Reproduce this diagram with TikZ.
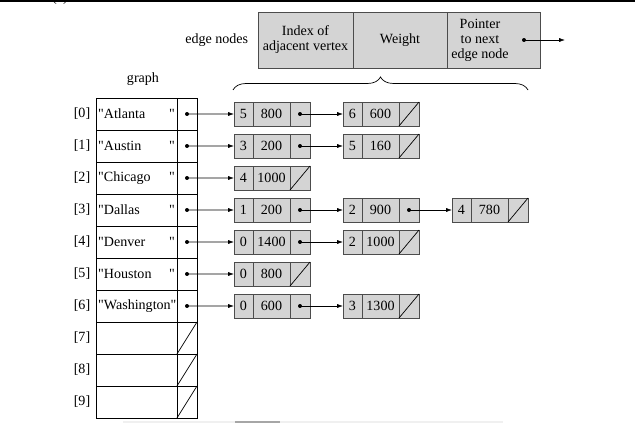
\documentclass[tikz,border=0pt]{standalone}
\usepackage{fontspec}
\setmainfont{Liberation Serif}[Ligatures=TeXOff]
\usetikzlibrary{positioning,arrows.meta,decorations.pathreplacing}

\tikzset{
  cell/.style={draw=black!70, fill=black!17, line width=.6pt, inner sep=0, outer sep=0, minimum height=.72cm},
  idx/.style={cell, minimum width=.57cm},
  wgt/.style={cell, minimum width=1.11cm},
  ptr/.style={cell, minimum width=.6cm},
  hdcell/.style={cell, minimum height=1.68cm, align=center},
  slot/.style={draw, line width=.7pt, inner sep=0, outer sep=0, minimum height=.96cm},
  vname/.style={slot, minimum width=2.43cm},
  vptr/.style={slot, minimum width=.6cm},
  ptrarrow/.style={-{Latex[length=5pt,width=3.5pt]}, line width=.6pt}
}

\begin{document}
\begin{tikzpicture}[x=.03cm, y=-.03cm, font=\fontsize{12}{12.8}\selectfont]
\useasboundingbox (0,0) rectangle (635,423);
\def\vrow#1#2#3{\node[vname, anchor=north west] (g#1n) at (96,#2) {\hbox to 2.3cm{#3}};
  \node[vptr, right=0pt of g#1n] (g#1p) {};
  \node[left=.05cm of g#1n] (g#1l) {[#1]};}
\def\enode(#1)(#2)#3#4{\node[idx, anchor=west] (#1i) at (#2) {#3};
  \node[wgt, right=0pt of #1i] (#1w) {#4};
  \node[ptr, right=0pt of #1w] (#1p) {};}
\def\link(#1)(#2){\fill (#1) circle (1.7pt); \draw[ptrarrow] (#1.center) -- (#2.west);}
\def\nil(#1){\draw[line width=.6pt] (#1.south west) -- (#1.north east);}

% scan edges
\node[anchor=base] (fig) at (60,2) {(a)};
\fill (0,0) rectangle (635,2.3);
\fill[black!6] (123,420.5) rectangle (503,423);
\fill[black!35] (235,420.5) rectangle (280,423);

% edge node legend
\node[hdcell, minimum width=2.85cm, anchor=north west] (h1) at (258,12) {Index of\\adjacent vertex};
\node[hdcell, minimum width=2.82cm, right=0pt of h1] (h2) {Weight};
\node[hdcell, minimum width=2.79cm, right=0pt of h2] (h3) {};
\node[align=center] (h3t) at (480,40) {Pointer\\to next\\edge node};
\coordinate (hdot) at (524,40);
\coordinate (hend) at (565,40);
\fill (hdot) circle (1.7pt);
\draw[ptrarrow] (hdot) -- (hend);
\node[left=.17cm of h1] (hlabel) {edge nodes};
\coordinate (bl) at (233,90);
\coordinate (br) at (528,90);
\draw[decorate, decoration={brace, amplitude=.39cm}, line width=.6pt] (bl) -- (br);

% vertex array
\node (glabel) at (143,79) {graph};
\vrow{0}{98}{"Atlanta\hfill"}
\vrow{1}{130}{"Austin\hfill"}
\vrow{2}{162}{"Chicago\hfill"}
\vrow{3}{194}{"Dallas\hfill"}
\vrow{4}{226}{"Denver\hfill"}
\vrow{5}{258}{"Houston\hfill"}
\vrow{6}{290}{"Washington"\hfill}
\vrow{7}{322}{}
\vrow{8}{354}{}
\vrow{9}{386}{}
\nil(g7p) \nil(g8p) \nil(g9p)

% adjacency lists
\enode(e0a)(234,114){5}{800}
\enode(e0b)(343,114){6}{600}
\enode(e1a)(234,146){3}{200}
\enode(e1b)(343,146){5}{160}
\enode(e2a)(234,178){4}{1000}
\enode(e3a)(234,210){1}{200}
\enode(e3b)(343,210){2}{900}
\enode(e3c)(452,210){4}{780}
\enode(e4a)(234,242){0}{1400}
\enode(e4b)(343,242){2}{1000}
\enode(e5a)(234,274){0}{800}
\enode(e6a)(234,306){0}{600}
\enode(e6b)(343,306){3}{1300}

\link(g0p)(e0ai) \link(e0ap)(e0bi) \nil(e0bp)
\link(g1p)(e1ai) \link(e1ap)(e1bi) \nil(e1bp)
\link(g2p)(e2ai) \nil(e2ap)
\link(g3p)(e3ai) \link(e3ap)(e3bi) \link(e3bp)(e3ci) \nil(e3cp)
\link(g4p)(e4ai) \link(e4ap)(e4bi) \nil(e4bp)
\link(g5p)(e5ai) \nil(e5ap)
\link(g6p)(e6ai) \link(e6ap)(e6bi) \nil(e6bp)
\end{tikzpicture}
\end{document}
